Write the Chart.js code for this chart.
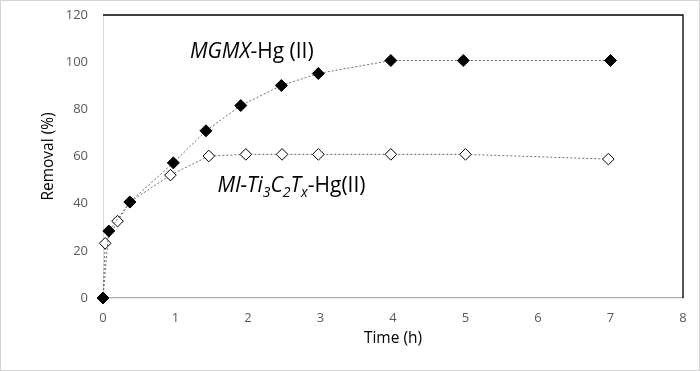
<!DOCTYPE html>
<html>
<head>
<meta charset="utf-8">
<script src="https://cdn.jsdelivr.net/npm/chart.js@4.4.0/dist/chart.umd.min.js"></script>
<style>
  html, body { margin: 0; padding: 0; background: #fff; }
</style>
</head>
<body>
<canvas id="removalChart" width="700" height="371"></canvas>
<script>
// time points (h) and removal (%)
var mgmxTime = [0, 0.08, 0.37, 0.97, 1.42, 1.9, 2.46, 2.97, 3.97, 4.97, 7.0];
var mgmxRemoval = [0, 28.4, 40.7, 57.3, 70.9, 81.6, 90.1, 95.2, 100.7, 100.7, 100.7];

var mlTime = [0, 0.03, 0.2, 0.37, 0.93, 1.46, 1.97, 2.47, 2.97, 3.97, 5.0, 6.97];
var mlRemoval = [0, 23.2, 32.6, 40.7, 52.1, 60.2, 60.9, 60.9, 60.9, 60.9, 60.9, 58.9];

var xTicks = [0, 1, 2, 3, 4, 5, 6, 7, 8];
var yTicks = [0, 20, 40, 60, 80, 100, 120];

var FONT = '"Open Sans", "Noto Sans", sans-serif';

function toPoints(xs, ys) {
    var pts = [];
    for (var i = 0; i < xs.length; i++) {
        pts.push({ x: xs[i], y: ys[i] });
    }
    return pts;
}

// draws a label made of pieces (italic / subscript) at a data position
function drawRich(ctx, chart, parts, dx, dy) {
    var x = chart.scales.x.getPixelForValue(dx);
    var y = chart.scales.y.getPixelForValue(dy);
    ctx.textBaseline = 'alphabetic';
    ctx.textAlign = 'left';
    ctx.fillStyle = '#000';
    for (var i = 0; i < parts.length; i++) {
        var p = parts[i];
        var size = p.sub ? 14 : 21;
        ctx.font = (p.i ? 'italic ' : '') + size + 'px ' + FONT;
        ctx.fillText(p.t, x, y + (p.sub ? 5 : 0));
        x += ctx.measureText(p.t).width;
    }
}

var framePlugin = {
    id: 'frame',
    beforeDraw: function(chart) {
        var ctx = chart.ctx;
        ctx.save();
        ctx.strokeStyle = '#d4d4d4';
        ctx.lineWidth = 1;
        ctx.strokeRect(0.5, 0.5, chart.width - 1, chart.height - 1);
        ctx.restore();
    },
    beforeDatasetsDraw: function(chart) {
        var ctx = chart.ctx;
        var a = chart.chartArea;
        ctx.save();
        ctx.strokeStyle = '#000';
        ctx.lineWidth = 1.3;
        ctx.beginPath();
        ctx.moveTo(a.left, a.top);
        ctx.lineTo(a.right, a.top);
        ctx.lineTo(a.right, a.bottom);
        ctx.stroke();
        ctx.restore();
    },
    afterDatasetsDraw: function(chart) {
        var ctx = chart.ctx;
        ctx.save();
        drawRich(ctx, chart, [
            { t: 'MGMX', i: true },
            { t: '-Hg (II)' }
        ], 1.2, 101.7);
        drawRich(ctx, chart, [
            { t: 'Ml-Ti', i: true },
            { t: '3', i: true, sub: true },
            { t: 'C', i: true },
            { t: '2', i: true, sub: true },
            { t: 'T', i: true },
            { t: 'x', i: true, sub: true },
            { t: '-Hg(II)' }
        ], 1.58, 44.9);
        ctx.restore();
    }
};

var ctx = document.getElementById('removalChart').getContext('2d');
var chart = new Chart(ctx, {
    type: 'scatter',
    data: {
        datasets: [{
            label: 'MGMX-Hg (II)',
            data: toPoints(mgmxTime, mgmxRemoval),
            showLine: true,
            clip: false,
            borderColor: '#6e6e6e',
            borderWidth: 1,
            borderDash: [2, 2],
            pointStyle: 'rectRot',
            pointRadius: 6,
            pointBackgroundColor: '#000',
            pointBorderColor: '#000',
            pointBorderWidth: 1
        }, {
            label: 'Ml-Ti3C2Tx-Hg(II)',
            data: toPoints(mlTime, mlRemoval),
            showLine: true,
            clip: false,
            borderColor: '#6e6e6e',
            borderWidth: 1,
            borderDash: [2, 2],
            pointStyle: 'rectRot',
            pointRadius: 5.8,
            pointBackgroundColor: '#fff',
            pointBorderColor: '#000',
            pointBorderWidth: 1
        }]
    },
    options: {
        responsive: false,
        animation: false,
        layout: { padding: { top: 15, right: 17, left: 0, bottom: 0 } },
        plugins: {
            legend: { display: false },
            tooltip: { enabled: false }
        },
        scales: {
            x: {
                type: 'linear',
                min: 0,
                max: 8,
                afterFit: function(s) { s.height = 73; s.paddingLeft = 0; s.paddingRight = 0; },
                afterBuildTicks: function(s) { s.ticks = xTicks.map(function(v) { return { value: v }; }); },
                grid: { display: false, drawTicks: false },
                border: { display: true, color: '#b0b0b0', width: 1.3 },
                ticks: { padding: 12, color: '#595959', font: { family: FONT, size: 13 } },
                title: {
                    display: true,
                    text: 'Time (h)',
                    color: '#000',
                    font: { family: FONT, size: 15.5 },
                    padding: { bottom: 23 }
                }
            },
            y: {
                min: 0,
                max: 120,
                afterFit: function(s) { s.width = 103; s.paddingTop = 0; s.paddingBottom = 0; },
                afterBuildTicks: function(s) { s.ticks = yTicks.map(function(v) { return { value: v }; }); },
                grid: { display: false, drawTicks: false },
                border: { display: true, color: '#d9d9d9', width: 1 },
                ticks: { padding: 15, color: '#595959', font: { family: FONT, size: 13 } },
                title: {
                    display: true,
                    text: 'Removal (%)',
                    color: '#000',
                    font: { family: FONT, size: 15.5 },
                    padding: { top: 39 }
                }
            }
        }
    },
    plugins: [framePlugin]
});
</script>
</body>
</html>
